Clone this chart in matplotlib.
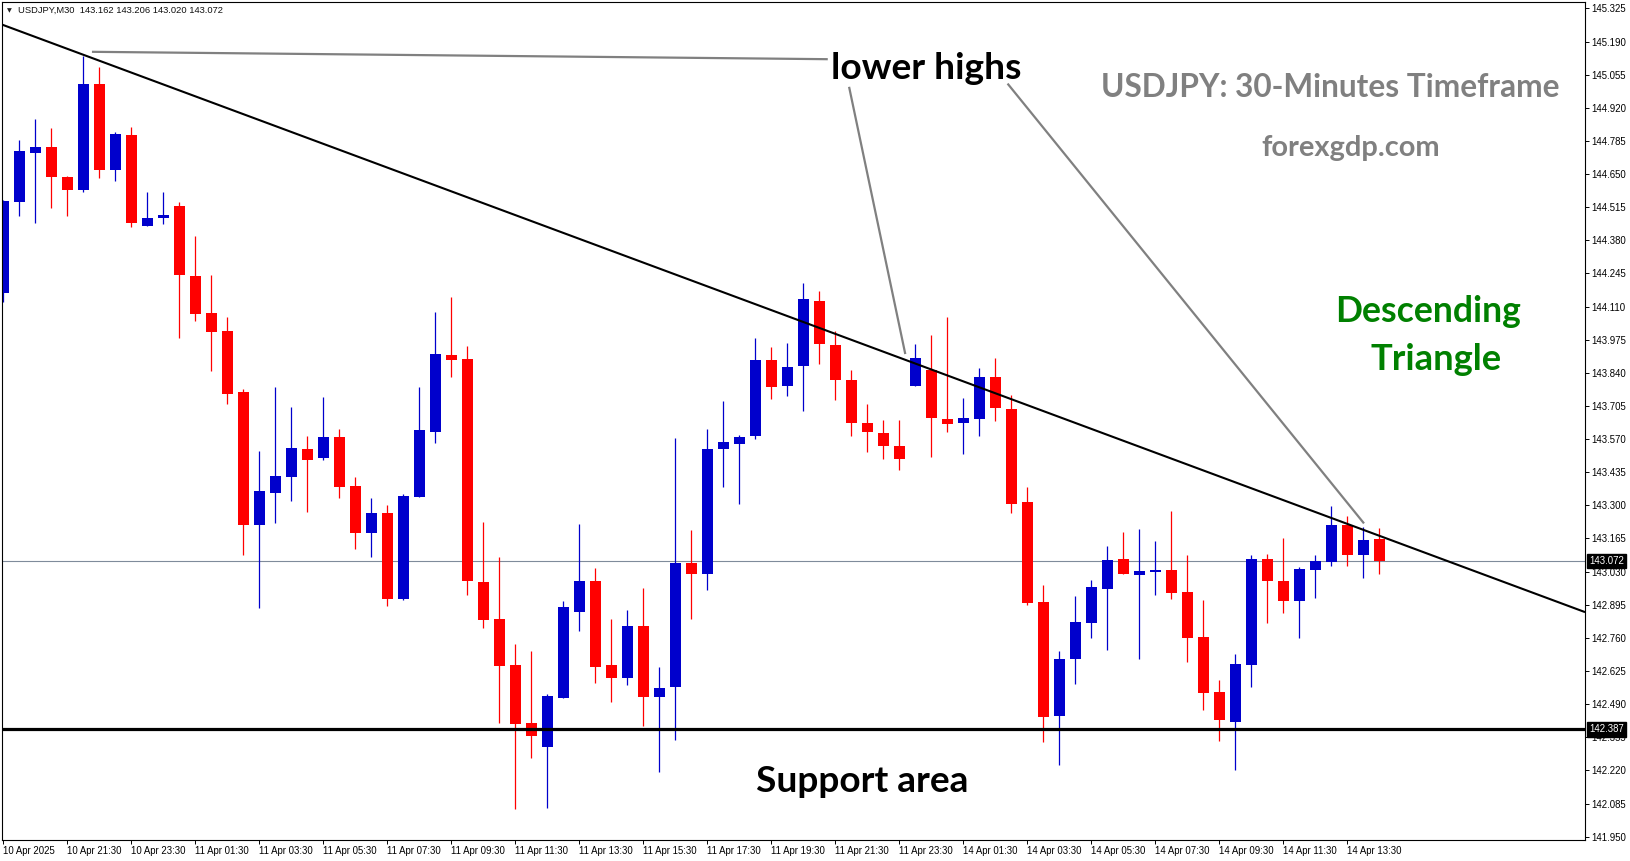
import matplotlib
matplotlib.use("Agg")
import matplotlib.pyplot as plt
import numpy as np
from matplotlib.transforms import blended_transform_factory

W, H, DPI = 1631, 861, 100

header_text = "USDJPY,M30  143.162 143.206 143.020 143.072"

opens = [144.164, 144.535, 144.734, 144.762, 144.639, 144.584, 145.015, 144.665, 144.811, 144.437,
         144.469, 144.521, 144.236, 144.085, 144.012, 143.763, 143.218, 143.352, 143.414, 143.531,
         143.491, 143.580, 143.380, 143.189, 143.270, 142.920, 143.336, 143.597, 143.914, 143.898,
         142.988, 142.838, 142.650, 142.414, 142.317, 142.517, 142.867, 142.992, 142.650, 142.598,
         142.809, 142.521, 142.558, 143.066, 143.022, 143.528, 143.552, 143.581, 143.893, 143.785,
         143.866, 144.134, 143.955, 143.812, 143.637, 143.596, 143.543, 143.785, 143.853, 143.653,
         143.634, 143.650, 143.824, 143.694, 143.315, 142.907, 142.443, 142.672, 142.822, 142.960,
         143.082, 143.018, 143.029, 143.037, 142.948, 142.764, 142.540, 142.419, 142.651, 143.082,
         142.992, 142.912, 143.037, 143.071, 143.221, 143.096, 143.162]
highs = [144.545, 144.790, 144.876, 144.839, 144.644, 145.133, 145.087, 144.823, 144.843, 144.575,
         144.578, 144.538, 144.399, 144.240, 144.069, 143.775, 143.522, 143.783, 143.702, 143.584,
         143.743, 143.612, 143.417, 143.331, 143.302, 143.347, 143.783, 144.089, 144.150, 143.951,
         143.233, 143.090, 142.736, 142.708, 142.532, 142.911, 143.225, 143.046, 142.838, 142.874,
         142.964, 142.642, 143.575, 143.200, 143.612, 143.726, 143.588, 143.983, 143.946, 143.963,
         144.207, 144.175, 144.009, 143.853, 143.714, 143.649, 143.649, 143.959, 143.995, 144.069,
         143.739, 143.861, 143.902, 143.751, 143.376, 142.976, 142.707, 142.931, 142.997, 143.135,
         143.192, 143.205, 143.156, 143.278, 143.099, 142.915, 142.589, 142.695, 143.096, 143.103,
         143.169, 143.050, 143.099, 143.298, 143.257, 143.213, 143.206]
lows = [144.127, 144.478, 144.449, 144.510, 144.478, 144.575, 144.633, 144.620, 144.433, 144.437,
        144.445, 143.980, 144.050, 143.846, 143.715, 143.099, 142.880, 143.230, 143.316, 143.275,
        143.483, 143.332, 143.124, 143.088, 142.888, 142.915, 143.336, 143.556, 143.821, 142.933,
        142.802, 142.415, 142.064, 142.272, 142.068, 142.517, 142.790, 142.578, 142.500, 142.570,
        142.399, 142.215, 142.344, 142.839, 142.957, 143.373, 143.304, 143.569, 143.732, 143.744,
        143.683, 143.874, 143.728, 143.581, 143.516, 143.487, 143.446, 143.785, 143.499, 143.597,
        143.511, 143.581, 143.642, 143.267, 142.892, 142.337, 142.244, 142.574, 142.761, 142.712,
        143.021, 142.676, 142.933, 142.920, 142.663, 142.468, 142.341, 142.223, 142.558, 142.822,
        142.863, 142.761, 142.924, 143.051, 143.051, 143.006, 143.020]
closes = [144.542, 144.745, 144.762, 144.637, 144.584, 145.015, 144.665, 144.815, 144.449, 144.472,
          144.485, 144.237, 144.078, 144.005, 143.752, 143.222, 143.359, 143.421, 143.535, 143.486,
          143.580, 143.373, 143.189, 143.270, 142.920, 143.339, 143.608, 143.918, 143.891, 142.990,
          142.831, 142.647, 142.411, 142.362, 142.524, 142.886, 142.992, 142.643, 142.598, 142.809,
          142.521, 142.556, 143.066, 143.022, 143.531, 143.559, 143.580, 143.893, 143.781, 143.865,
          144.142, 143.956, 143.809, 143.634, 143.597, 143.540, 143.487, 143.902, 143.658, 143.630,
          143.657, 143.824, 143.695, 143.304, 142.904, 142.439, 142.675, 142.825, 142.968, 143.078,
          143.022, 143.033, 143.037, 142.941, 142.761, 142.537, 142.427, 142.654, 143.082, 142.990,
          142.912, 143.041, 143.074, 143.221, 143.096, 143.160, 143.072]

x_tick_labels = ["10 Apr 2025", "10 Apr 21:30", "10 Apr 23:30", "11 Apr 01:30", "11 Apr 03:30",
                 "11 Apr 05:30", "11 Apr 07:30", "11 Apr 09:30", "11 Apr 11:30", "11 Apr 13:30",
                 "11 Apr 15:30", "11 Apr 17:30", "11 Apr 19:30", "11 Apr 21:30", "11 Apr 23:30",
                 "14 Apr 01:30", "14 Apr 03:30", "14 Apr 05:30", "14 Apr 07:30", "14 Apr 09:30",
                 "14 Apr 11:30", "14 Apr 13:30"]
x_tick_step = 4

y_tick_labels = ["145.325", "145.190", "145.055", "144.920", "144.785", "144.650", "144.515",
                 "144.380", "144.245", "144.110", "143.975", "143.840", "143.705", "143.570",
                 "143.435", "143.300", "143.165", "143.030", "142.895", "142.760", "142.625",
                 "142.490", "142.355", "142.220", "142.085", "141.950"]

last_price = 143.072
support_level = 142.387
trend_x = [-0.04, 98.86]
trend_y = [145.258, 142.865]
lower_highs_x = [5.61, 51.46]
lower_highs_y = [145.148, 145.118]
pointer1_x = [52.875, 56.36]
pointer1_y = [145.001, 143.921]
pointer2_x = [62.81, 85.0]
pointer2_y = [145.015, 143.230]

# ---------------------------------------------------------------
plt.rcParams['font.family'] = ['Liberation Sans', 'DejaVu Sans']
fig = plt.figure(figsize=(W / DPI, H / DPI), dpi=DPI, facecolor='white')
L, R, T, B = 2, 1585, 2, 840
ax = fig.add_axes([L / W, 1 - B / H, (R - L) / W, (B - T) / H])
ax.set_facecolor('white')

n = len(opens)
x = np.arange(n)
o = np.array(opens); c = np.array(closes); hi = np.array(highs); lo = np.array(lows)
up = c >= o
cols = np.where(up, '#0000CC', '#FF0000')
bottoms = np.minimum(o, c)
heights = np.maximum(np.abs(c - o), 0.004)

ax.vlines(x, lo, hi, colors=cols, lw=0.9, zorder=2)
ax.bar(x, heights, width=0.6875, bottom=bottoms, color=cols, linewidth=0, zorder=2.5)

ax.axhline(last_price, color='#7f8b9b', lw=0.8, zorder=1)
ax.axhline(support_level, color='black', lw=2.3, zorder=4)

tx = np.array(trend_x); ty = np.array(trend_y)
ax.plot(tx, ty, color='black', lw=1.5, zorder=4, solid_capstyle='butt')
ax.plot(lower_highs_x, lower_highs_y, color='#808080', lw=1.6, zorder=4)
ax.plot(pointer1_x, pointer1_y, color='#808080', lw=1.6, zorder=4)
ax.plot(pointer2_x, pointer2_y, color='#808080', lw=1.6, zorder=4)

ax.set_xlim(-0.081, 98.856)
ax.set_ylim(141.9365, 145.351)

# axes / ticks
ax.yaxis.tick_right()
yt = [float(s) for s in y_tick_labels]
ax.set_yticks(yt)
ax.set_yticklabels(y_tick_labels)
ax.tick_params(axis='y', length=3, width=0.7, pad=1.2, labelsize=6.9, direction='out', colors='black')
xt = list(range(0, x_tick_step * len(x_tick_labels), x_tick_step))
ax.set_xticks(xt)
ax.set_xticklabels(x_tick_labels)
for lab in ax.get_xticklabels():
    lab.set_horizontalalignment('left')
ax.tick_params(axis='x', length=3, width=0.7, pad=1.5, labelsize=6.9, direction='out', colors='black')
for sp in ax.spines.values():
    sp.set_color('black')
    sp.set_linewidth(0.8)

# price boxes
bt = blended_transform_factory(ax.transAxes, ax.transData)
for val in (last_price, support_level):
    ax.text(1.0027, val, f"{val:.3f}", transform=bt, ha='left', va='center', color='white',
            fontsize=6.9, clip_on=False, zorder=10,
            bbox=dict(boxstyle='square,pad=0.22', fc='black', ec='black'))

# header
fig.text(9 / W, 1 - 10.5 / H, "\u25BC", fontsize=4.5, ha='center', va='center',
         family='DejaVu Sans', color='#202020')
fig.text(18.3 / W, 1 - 10.7 / H, header_text, fontsize=6.75, ha='left', va='center', color='#101010')

# annotations
renderer = fig.canvas.get_renderer()


def fit_text(xd, yd, s, target_w, color):
    t = ax.text(xd, yd, s, fontsize=20, ha='center', va='baseline', color=color,
                family='Lato', fontweight='bold', zorder=6)
    w = t.get_window_extent(renderer=renderer).width
    t.set_fontsize(20 * target_w / w)
    return t


fit_text(57.71, 145.039, "lower highs", 190, 'black')
fit_text(82.92, 144.963, "USDJPY: 30-Minutes Timeframe", 460, '#808080')
fit_text(84.24, 144.722, "forexgdp.com", 179, '#808080')
fit_text(89.03, 144.046, "Descending", 186, '#008000')
fit_text(89.56, 143.850, "Triangle", 131, '#008000')
fit_text(53.67, 142.134, "Support area", 212, 'black')

fig.savefig("out.png", dpi=DPI, facecolor='white')
